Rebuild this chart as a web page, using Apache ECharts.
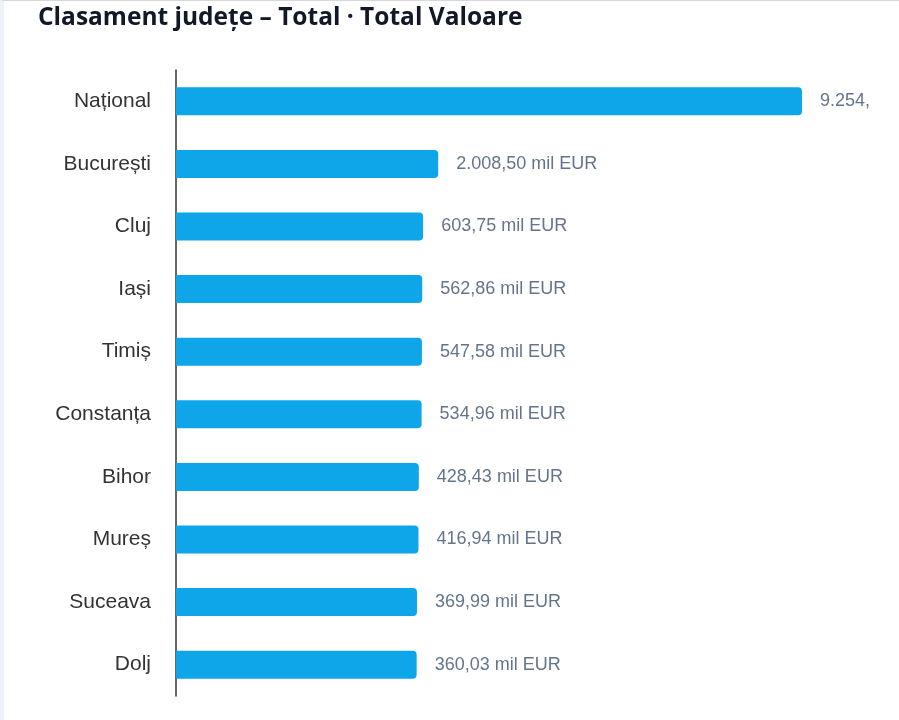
<!DOCTYPE html>
<html>
<head>
<meta charset="utf-8">
<title>Clasament județe</title>
<script src="https://cdn.jsdelivr.net/npm/echarts@6/dist/echarts.min.js"></script>
<style>
  html, body { margin: 0; padding: 0; background: #fff; }
  #main {
    width: 895px; height: 719px;
    border-left: 4px solid #eef2f7;
    border-top: 1px solid #d4d7db;
  }
</style>
</head>
<body>
<div id="main"></div>
<script>
// date (mil EUR)
var judete = ['Național', 'București', 'Cluj', 'Iași', 'Timiș', 'Constanța', 'Bihor', 'Mureș', 'Suceava', 'Dolj'];
var valori = [9254.37, 2008.50, 603.75, 562.86, 547.58, 534.96, 428.43, 416.94, 369.99, 360.03];

// Național pe axa liniara, judetele pe axa log (cum arata in original)
var nationalData = valori.map(function (v, i) { return i === 0 ? v : '-'; });
var judeteData = valori.map(function (v, i) { return i === 0 ? '-' : v; });

var logMin = Math.pow(10, -5.77);
var logMax = Math.pow(10, 15.89);

function fmtRo(v) {
	var parts = v.toFixed(2).split('.');
	var intPart = parts[0].replace(/\B(?=(\d{3})+(?!\d))/g, '.');
	return intPart + ',' + parts[1] + ' mil EUR';
}

var chart = echarts.init(document.getElementById('main'));

var barLabel = {
	show: true,
	position: 'right',
	distance: 18,
	color: '#64748b',
	fontSize: 18,
	fontFamily: 'Liberation Sans, Arial, sans-serif',
	formatter: function (p) { return fmtRo(p.value); }
};

var option = {
	animation: false,
	title: {
		text: 'Clasament județe – Total · Total Valoare',
		left: 29,
		top: 0,
		textStyle: {
			fontFamily: 'Open Sans',
			fontWeight: 'bold',
			fontSize: 24.5,
			color: '#111827'
		}
	},
	grid: { left: 172, right: 97, top: 69, bottom: 24 },
	xAxis: [
		{ type: 'value', show: false, min: 0, max: 'dataMax' },
		{ type: 'log', show: false, min: logMin, max: logMax, startValue: logMin }
	],
	yAxis: {
		type: 'category',
		data: judete,
		inverse: true,
		axisLine: { onZero: false, lineStyle: { color: '#333', width: 1.5 } },
		axisTick: { show: false },
		axisLabel: {
			margin: 25,
			fontSize: 21,
			color: '#333',
			fontFamily: 'Liberation Sans, Arial, sans-serif'
		}
	},
	series: [
		{
			name: 'Național',
			type: 'bar',
			xAxisIndex: 0,
			barWidth: 28,
			barGap: '-100%',
			data: nationalData,
			itemStyle: { color: '#0ea5e9', borderRadius: [0, 4, 4, 0] },
			label: Object.assign({}, barLabel, { width: 57, overflow: 'truncate', ellipsis: '' })
		},
		{
			name: 'Județe',
			type: 'bar',
			xAxisIndex: 1,
			barWidth: 28,
			barGap: '-100%',
			data: judeteData,
			itemStyle: { color: '#0ea5e9', borderRadius: [0, 4, 4, 0] },
			label: barLabel
		}
	]
};

chart.setOption(option);
</script>
</body>
</html>
